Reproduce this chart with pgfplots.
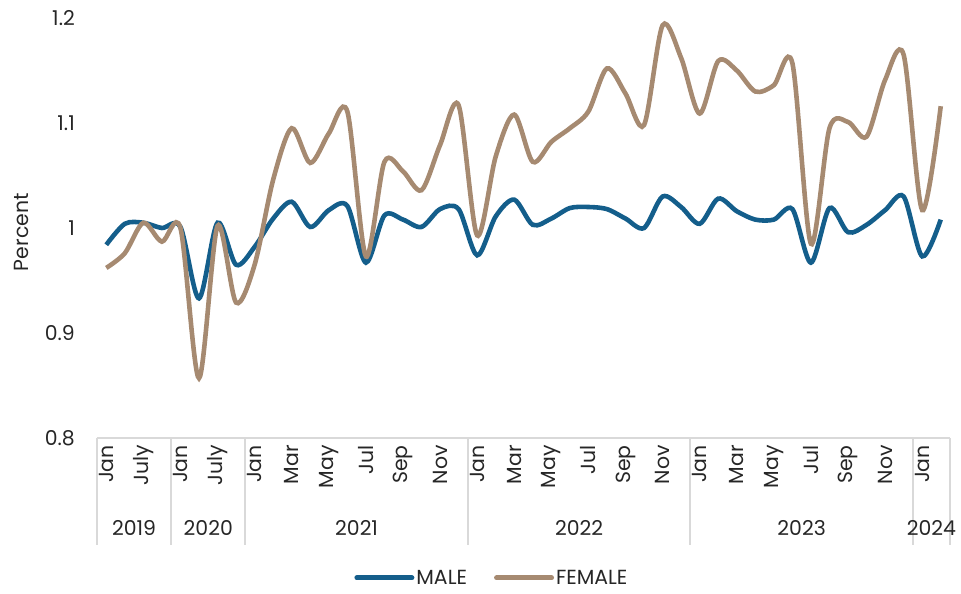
\documentclass[border=0pt]{standalone}
\usepackage{pgfplots}
\pgfplotsset{compat=1.18}
\usepackage{fontspec}
\setmainfont{Poppins}
\definecolor{maleblue}{RGB}{20,94,139}
\definecolor{femtan}{RGB}{166,138,113}
\definecolor{sepgray}{RGB}{217,217,217}
\definecolor{txt}{RGB}{38,38,38}
\newcommand\lblfont{\fontsize{20.5}{24}\selectfont}

\pgfplotstableread{
i male female
0 0.984 0.962
1 1.004 0.976
2 1.005 1.005
3 1.000 0.987
4 1.001 1.000
5 0.933 0.857
6 1.005 1.002
7 0.965 0.929
8 0.982 0.965
9 1.009 1.046
10 1.025 1.095
11 1.001 1.062
12 1.017 1.090
13 1.021 1.111
14 0.967 0.973
15 1.012 1.063
16 1.008 1.054
17 1.001 1.036
18 1.018 1.079
19 1.018 1.117
20 0.974 0.993
21 1.011 1.068
22 1.027 1.108
23 1.003 1.063
24 1.009 1.082
25 1.019 1.095
26 1.020 1.111
27 1.018 1.152
28 1.009 1.128
29 1.000 1.098
30 1.030 1.193
31 1.020 1.162
32 1.004 1.109
33 1.028 1.159
34 1.016 1.150
35 1.008 1.130
36 1.008 1.136
37 1.018 1.157
38 0.967 0.985
39 1.019 1.095
40 0.996 1.101
41 1.003 1.087
42 1.017 1.141
43 1.030 1.165
44 0.973 1.017
45 1.008 1.116
}\datatable

\begin{document}
\begin{tikzpicture}
\path (-97bp,-156bp) rectangle (864bp,438bp);
\begin{axis}[
  scale only axis, width=853bp, height=420bp,
  at={(0,0)}, anchor=south west,
  xmin=-0.5, xmax=45.5, ymin=0.8, ymax=1.2,
  clip=false,
  axis x line*=bottom, axis y line*=left,
  y axis line style={draw=none},
  x axis line style={draw=sepgray, line width=2bp},
  major tick length=0pt,
  ytick={0.8,0.9,1,1.1,1.2},
  yticklabels={0.8,0.9,1,1.1,1.2},
  yticklabel style={anchor=east, inner sep=0pt, xshift=-22bp, font=\lblfont, text=txt},
  xtick={0,2,...,44},
  xticklabels={Jan,July,Jan,July,Jan,Mar,May,Jul,Sep,Nov,Jan,Mar,May,Jul,Sep,Nov,Jan,Mar,May,Jul,Sep,Nov,Jan},
  xticklabel style={rotate=90, anchor=east, inner sep=0pt, font=\lblfont, text=txt},
  xticklabel shift=7bp,
  legend style={at={(0.463,-0.333)}, anchor=center, draw=none, fill=none, legend columns=2, font=\lblfont, text=txt,
    /tikz/every even column/.append style={column sep=25bp},
    nodes={inner xsep=2bp}},
  legend cell align=left,
  legend image code/.code={\draw[#1, line width=5bp, line cap=round] (0bp,0bp) -- (55bp,0bp);},
]
\addplot[maleblue, line width=4.6bp, smooth, tension=0.5] table[x=i, y=male] {\datatable};
\addlegendentry{MALE}
\addplot[femtan, line width=4.6bp, smooth, tension=0.5] table[x=i, y=female] {\datatable};
\addlegendentry{FEMALE}

\draw[sepgray, line width=2bp] (axis cs:-0.5,0.8) -- ([yshift=-107bp]axis cs:-0.5,0.8);
\draw[sepgray, line width=2bp] (axis cs:3.5,0.8) -- ([yshift=-107bp]axis cs:3.5,0.8);
\draw[sepgray, line width=2bp] (axis cs:7.5,0.8) -- ([yshift=-107bp]axis cs:7.5,0.8);
\draw[sepgray, line width=2bp] (axis cs:19.5,0.8) -- ([yshift=-107bp]axis cs:19.5,0.8);
\draw[sepgray, line width=2bp] (axis cs:31.5,0.8) -- ([yshift=-107bp]axis cs:31.5,0.8);
\draw[sepgray, line width=2bp] (axis cs:43.5,0.8) -- ([yshift=-107bp]axis cs:43.5,0.8);
\draw[sepgray, line width=2bp] (axis cs:45.5,0.8) -- ([yshift=-107bp]axis cs:45.5,0.8);

\node[font=\lblfont, text=txt] at ([yshift=-90bp]axis cs:1.5,0.8) {2019};
\node[font=\lblfont, text=txt] at ([yshift=-90bp]axis cs:5.5,0.8) {2020};
\node[font=\lblfont, text=txt] at ([yshift=-90bp]axis cs:13.5,0.8) {2021};
\node[font=\lblfont, text=txt] at ([yshift=-90bp]axis cs:25.5,0.8) {2022};
\node[font=\lblfont, text=txt] at ([yshift=-90bp]axis cs:37.5,0.8) {2023};
\node[font=\lblfont, text=txt] at ([yshift=-90bp]axis cs:44.5,0.8) {2024};

\node[rotate=90, font=\lblfont, text=txt] at ([xshift=-76bp]rel axis cs:0,0.49) {Percent};
\end{axis}
\end{tikzpicture}
\end{document}
